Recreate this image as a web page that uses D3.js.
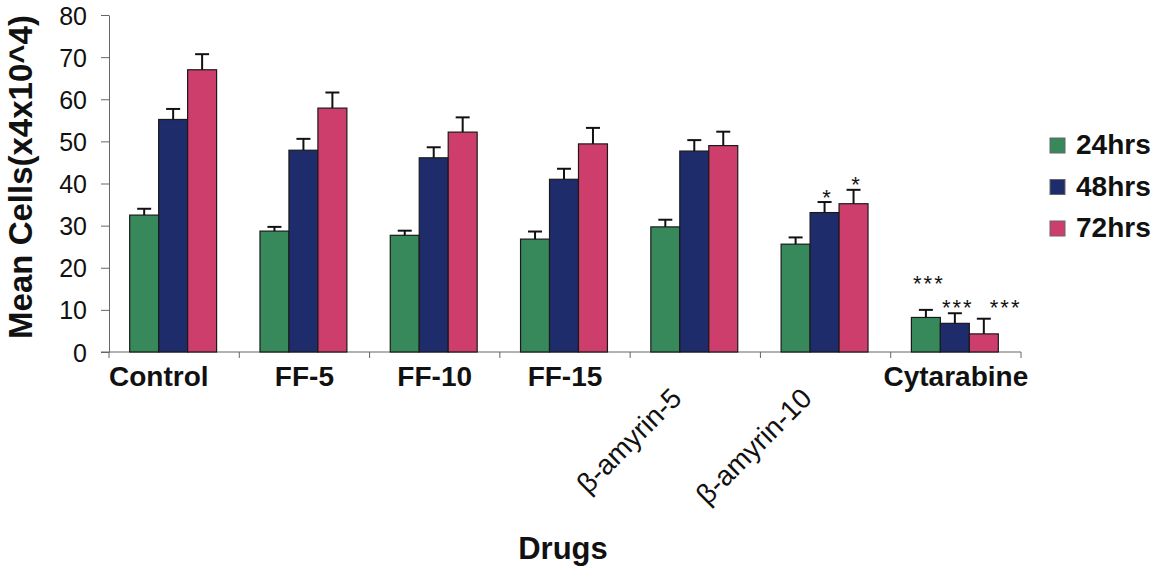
<!DOCTYPE html>
<html>
<head>
<meta charset="utf-8">
<script src="https://cdn.jsdelivr.net/npm/d3@7"></script>
<style>
  body { margin: 0; background: #fff; }
  svg { display: block; font-family: "Liberation Sans", Arial, sans-serif; }
</style>
</head>
<body>
<svg width="1159" height="571"></svg>
<script>
const drugs = ['Control', 'FF-5', 'FF-10', 'FF-15', 'β-amyrin-5', 'β-amyrin-10', 'Cytarabine']
const series = ['24hrs', '48hrs', '72hrs']
const mean24 = [32.5, 28.7, 27.7, 26.8, 29.7, 25.6, 8.2]
const mean48 = [55.2, 47.9, 46.1, 41.0, 47.7, 33.1, 6.8]
const mean72 = [67.0, 57.9, 52.2, 49.4, 49.0, 35.2, 4.3]
const err24 = [1.5, 1.0, 1.1, 1.8, 1.7, 1.6, 1.8]
const err48 = [2.5, 2.7, 2.5, 2.5, 2.6, 2.5, 2.4]
const err72 = [3.7, 3.7, 3.5, 3.8, 3.3, 3.3, 3.6]
const yTicks = [0, 10, 20, 30, 40, 50, 60, 70, 80]
// significance marks, level = where the stars sit on the y scale
const stars = [
  { drug: 'β-amyrin-10', series: '48hrs', text: '*', level: 38.0 },
  { drug: 'β-amyrin-10', series: '72hrs', text: '*', level: 41.1 },
  { drug: 'Cytarabine', series: '24hrs', text: '***', level: 17.6 },
  { drug: 'Cytarabine', series: '48hrs', text: '***', level: 11.9 },
  { drug: 'Cytarabine', series: '72hrs', text: '***', level: 11.9, right: true }
]

const colors = ['#37895b', '#1e2c6b', '#cd3e6c']
const means = [mean24, mean48, mean72]
const errs = [err24, err48, err72]

const rows = []
drugs.forEach((d, i) => series.forEach((s, j) => {
  rows.push({ drug: d, series: s, mean: means[j][i], err: errs[j][i] })
}))

const svg = d3.select('svg')

const x = d3.scaleBand().domain(drugs).range([109, 1021])
const groupW = x.bandwidth() * 0.667
const x1 = d3.scaleBand().domain(series).range([0, groupW])
const xOff = (x.bandwidth() - groupW) / 2 - 1
const y = d3.scaleLinear().domain([0, 80]).range([352, 15])
const color = d3.scaleOrdinal(series, colors)

const barX = d => x(d.drug) + xOff + x1(d.series)

// y axis
const yAxis = svg.append('g')
  .attr('transform', 'translate(109,0)')
  .call(d3.axisLeft(y).tickValues(yTicks).tickSize(8).tickSizeOuter(0).tickPadding(14))
yAxis.select('.domain').attr('stroke', '#666')
yAxis.selectAll('.tick line').attr('stroke', '#666')
yAxis.selectAll('.tick text')
  .attr('fill', '#111')
  .style('font-size', '25px')
  .attr('dy', '0.36em')

// x axis line + boundary ticks
svg.append('line')
  .attr('x1', 101).attr('x2', x.range()[1])
  .attr('y1', y(0)).attr('y2', y(0))
  .attr('stroke', '#666')
svg.selectAll('.xtick')
  .data(drugs.map(d => x(d)).concat([x.range()[1]]))
  .enter().append('line')
  .attr('class', 'xtick')
  .attr('x1', d => d).attr('x2', d => d)
  .attr('y1', y(0)).attr('y2', y(0) + 6)
  .attr('stroke', '#666')

// bars
svg.selectAll('.bar')
  .data(rows)
  .enter().append('rect')
  .attr('class', 'bar')
  .attr('x', barX)
  .attr('width', x1.bandwidth())
  .attr('y', d => y(d.mean))
  .attr('height', d => y(0) - y(d.mean))
  .attr('fill', d => color(d.series))
  .attr('stroke', '#1a1a1a')
  .attr('stroke-width', 1.2)

// error bars (upper only)
const eb = svg.selectAll('.err')
  .data(rows)
  .enter().append('g')
  .attr('class', 'err')
  .attr('stroke', '#111')
  .attr('stroke-width', 2)
eb.append('line')
  .attr('x1', d => barX(d) + x1.bandwidth() / 2)
  .attr('x2', d => barX(d) + x1.bandwidth() / 2)
  .attr('y1', d => y(d.mean))
  .attr('y2', d => y(d.mean + d.err))
eb.append('line')
  .attr('x1', d => barX(d) + x1.bandwidth() / 2 - 7)
  .attr('x2', d => barX(d) + x1.bandwidth() / 2 + 7)
  .attr('y1', d => y(d.mean + d.err))
  .attr('y2', d => y(d.mean + d.err))

// stars
svg.selectAll('.star')
  .data(stars)
  .enter().append('text')
  .attr('class', 'star')
  .attr('x', d => barX(d) + x1.bandwidth() / 2 + (d.right ? 6 : 3))
  .attr('y', d => y(d.level) + 13)
  .attr('text-anchor', d => d.right ? 'start' : 'middle')
  .attr('letter-spacing', 2)
  .style('font-size', '22px')
  .attr('fill', '#111')
  .text(d => d.text)

// x labels
svg.selectAll('.xlab')
  .data(drugs.filter(d => !d.startsWith('β')))
  .enter().append('text')
  .attr('class', 'xlab')
  .attr('x', (d, i) => i === 0 ? x(d) : x(d) + x.bandwidth() / 2)
  .attr('y', 386)
  .attr('text-anchor', (d, i) => i === 0 ? 'start' : 'middle')
  .style('font-size', '28px')
  .style('font-weight', 'bold')
  .attr('fill', '#111')
  .text(d => d)

svg.selectAll('.xrot')
  .data(drugs.filter(d => d.startsWith('β')))
  .enter().append('text')
  .attr('class', 'xrot')
  .attr('transform', d => `translate(${x(d) + x.bandwidth() / 2 - 12},400) rotate(-45)`)
  .attr('text-anchor', 'end')
  .style('font-size', '28px')
  .attr('fill', '#111')
  .text(d => d)

// axis titles
svg.append('text')
  .attr('transform', 'translate(32,177) rotate(-90)')
  .attr('text-anchor', 'middle')
  .style('font-size', '33px')
  .style('font-weight', 'bold')
  .attr('fill', '#111')
  .text('Mean Cells(x4x10^4)')

svg.append('text')
  .attr('x', 563)
  .attr('y', 559)
  .attr('text-anchor', 'middle')
  .style('font-size', '31px')
  .style('font-weight', 'bold')
  .attr('fill', '#111')
  .text('Drugs')

// legend
const leg = svg.selectAll('.leg')
  .data(series)
  .enter().append('g')
  .attr('class', 'leg')
  .attr('transform', (d, i) => `translate(1050,${138 + i * 41.5})`)
leg.append('rect')
  .attr('width', 15).attr('height', 15)
  .attr('fill', d => color(d))
  .attr('stroke', '#666')
leg.append('text')
  .attr('x', 26).attr('y', 16)
  .style('font-size', '28px')
  .style('font-weight', 'bold')
  .attr('fill', '#111')
  .text(d => d)
</script>
</body>
</html>
